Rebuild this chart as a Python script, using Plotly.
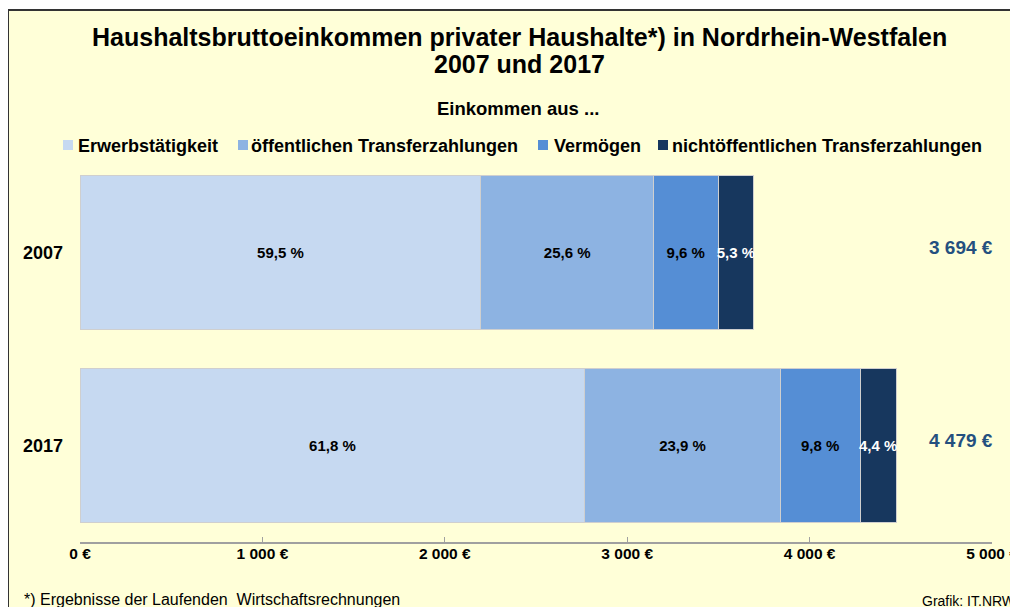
import plotly.graph_objects as go

# ---------------- data ----------------
years = ["2007", "2017"]
totals = [3694, 4479]
series_names = ["Erwerbstätigkeit", "öffentlichen Transferzahlungen", "Vermögen",
                "nichtöffentlichen Transferzahlungen"]
shares_2007 = [59.5, 25.6, 9.6, 5.3]
shares_2017 = [61.8, 23.9, 9.8, 4.4]
x_ticks = [0, 1000, 2000, 3000, 4000, 5000]

title_line1 = "Haushaltsbruttoeinkommen privater Haushalte*) in Nordrhein-Westfalen"
title_line2 = "2007 und 2017"
subtitle = "Einkommen aus ..."
footnote = "*) Ergebnisse der Laufenden  Wirtschaftsrechnungen"
source = "Grafik: IT.NRW"

# ---------------- styles ----------------
colors = ["#C6D9F1", "#8DB3E2", "#558ED5", "#17375E"]
text_colors = ["black", "black", "black", "white"]
FONT = "Liberation Sans, Arial, sans-serif"
BG = "#FFFFD8"

OFF = 8                      # browser body margin
W, H = 1018 - OFF, 607 - OFF
# plot area in reference-pixel coordinates
L, R, T, B = 80, 992, 156, 542


def px(x):
    return (x - L) / (R - L)


def py(y):
    return (B - y) / (B - T)


def fmt_pct(v):
    return f"{v:.1f}".replace(".", ",") + " %"


def fmt_eur(v):
    return f"{v:,}".replace(",", " ") + " €"


fig = go.Figure()
shares = [shares_2007, shares_2017]
for i, name in enumerate(series_names):
    vals = [shares[k][i] / 100 * totals[k] for k in range(len(years))]
    labels = [fmt_pct(shares[k][i]) for k in range(len(years))]
    fig.add_trace(go.Bar(
        y=years, x=vals, name=name, orientation="h",
        marker=dict(color=colors[i], line=dict(color="#CFCFCF", width=1)),
        text=labels, textposition="inside", insidetextanchor="middle",
        textangle=0, constraintext="none",
        textfont=dict(family=FONT, size=15, color=text_colors[i], weight="bold"),
        showlegend=False, hoverinfo="skip",
    ))

annotations = []
# titles
annotations.append(dict(text=title_line1, x=px(519), y=py(36.5), xref="paper", yref="paper",
                        showarrow=False, xanchor="center", yanchor="middle",
                        font=dict(family=FONT, size=25, color="black", weight="bold")))
annotations.append(dict(text=title_line2, x=px(519), y=py(63.5), xref="paper", yref="paper",
                        showarrow=False, xanchor="center", yanchor="middle",
                        font=dict(family=FONT, size=25, color="black", weight="bold")))
annotations.append(dict(text=subtitle, x=px(518), y=py(108.5), xref="paper", yref="paper",
                        showarrow=False, xanchor="center", yanchor="middle",
                        font=dict(family=FONT, size=18.5, color="black", weight="bold")))

# legend (manual)
legend_sq_x = [63, 238, 538, 658]
legend_txt_x = [76, 249, 552, 670]
shapes = []
shapes.append(dict(type="rect", xref="paper", yref="paper",
                   x0=px(8), x1=px(1060), y0=py(10), y1=py(660),
                   fillcolor=BG, line=dict(color="#333333", width=2), layer="below"))
for i, name in enumerate(series_names):
    shapes.append(dict(type="rect", xref="paper", yref="paper",
                       x0=px(legend_sq_x[i]), x1=px(legend_sq_x[i] + 10),
                       y0=py(140), y1=py(150),
                       fillcolor=colors[i], line=dict(width=0)))
    annotations.append(dict(text=name, x=px(legend_txt_x[i]), y=py(146), xref="paper", yref="paper",
                            showarrow=False, xanchor="left", yanchor="middle",
                            font=dict(family=FONT, size=18, color="black", weight="bold")))

# totals (y given as category index)
for k, yr in enumerate(years):
    annotations.append(dict(text=fmt_eur(totals[k]), x=4830, y=k, xref="x", yref="y",
                            showarrow=False, xanchor="center", yanchor="middle", yshift=5,
                            font=dict(family=FONT, size=19, color="#24507F", weight="bold")))

# footnote & source
annotations.append(dict(text=footnote, x=px(22), y=py(599), xref="paper", yref="paper",
                        showarrow=False, xanchor="left", yanchor="middle",
                        font=dict(family=FONT, size=16, color="black")))
annotations.append(dict(text=source, x=px(920), y=py(601), xref="paper", yref="paper",
                        showarrow=False, xanchor="left", yanchor="middle",
                        font=dict(family=FONT, size=14, color="black")))

fig.update_layout(
    width=W, height=H, autosize=False,
    margin=dict(l=L - OFF, r=1018 - R, t=T - OFF, b=607 - B, pad=0, autoexpand=False),
    paper_bgcolor="white", plot_bgcolor="rgba(0,0,0,0)",
    barmode="stack", bargap=0.2,
    annotations=annotations, shapes=shapes,
    uniformtext=dict(minsize=15, mode="show"),
    showlegend=False,
)
fig.update_xaxes(range=[0, 5000], tickvals=x_ticks, ticktext=[fmt_eur(v) for v in x_ticks],
                 showgrid=False, zeroline=False, showline=True, linecolor="#A0A0A0", linewidth=1.5,
                 ticks="inside", ticklen=5, tickcolor="#A0A0A0", tickwidth=1,
                 tickfont=dict(family=FONT, size=15.5, color="black", weight="bold"),
                 ticklabelstandoff=-3, ticklabeloverflow="allow", automargin=False,
                 fixedrange=True)
fig.update_yaxes(type="category", categoryorder="array", categoryarray=years,
                 range=[1.5, -0.5], autorange=False,
                 showgrid=False, zeroline=False, showline=False,
                 ticks="", ticklabelstandoff=16, automargin=False,
                 tickfont=dict(family=FONT, size=18, color="black", weight="bold"),
                 fixedrange=True)

fig.write_html("out.html")
